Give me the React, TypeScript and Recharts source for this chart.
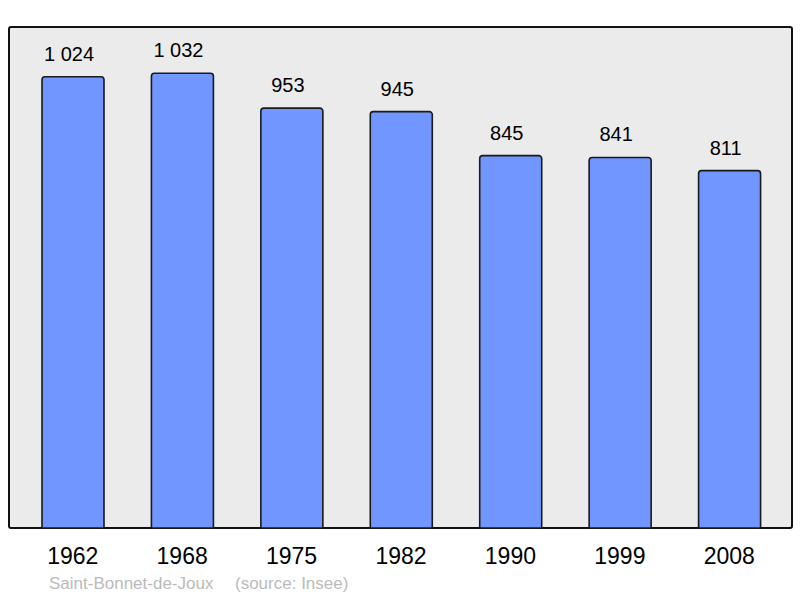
import React from "react";
import { BarChart, Bar, XAxis, YAxis, LabelList } from "recharts";

const years = ["1962", "1968", "1975", "1982", "1990", "1999", "2008"];
const population = [1024, 1032, 953, 945, 845, 841, 811];

const data = years.map((y, i) => ({ year: y, pop: population[i] }));

const fmt = (v: any) => {
  const n = Number(v);
  return n >= 1000 ? `${Math.floor(n / 1000)} ${String(n % 1000).padStart(3, "0")}` : String(n);
};

const FONT = "'Liberation Sans', Arial, sans-serif";

export default function App() {
  return (
    <div style={{ position: "fixed", left: 0, top: 0, width: 800, height: 598, background: "#fff", fontFamily: FONT }}>
      <div
        style={{
          position: "absolute",
          left: 8,
          top: 26,
          width: 781,
          height: 499,
          border: "2px solid #111",
          borderRadius: 3,
          background: "#ebebeb",
        }}
      />
      <div style={{ position: "absolute", left: 0, top: 0 }}>
        <BarChart
          width={800}
          height={598}
          data={data}
          margin={{ top: 27, right: 16, left: 18, bottom: 30 }}
          barSize={62}
        >
          <XAxis
            dataKey="year"
            axisLine={false}
            tickLine={false}
            height={40}
            tickMargin={14}
            tick={{ fontSize: 23, fill: "#000", fontFamily: FONT }}
            interval={0}
          />
          <YAxis hide domain={[0, 1137]} />
          <Bar
            dataKey="pop"
            fill="#7196ff"
            stroke="#1a1a1a"
            strokeWidth={1.6}
            radius={[3, 3, 0, 0]}
            isAnimationActive={false}
          >
            <LabelList
              dataKey="pop"
              position="top"
              offset={16}
              dx={-4}
              formatter={fmt}
              style={{ fontSize: 20, fill: "#000", fontFamily: FONT }}
            />
          </Bar>
        </BarChart>
      </div>
      <div
        style={{
          position: "absolute",
          left: 49,
          top: 574,
          fontSize: 17,
          color: "#bbbbbb",
          whiteSpace: "pre",
          fontFamily: FONT,
        }}
      >
        <span>Saint-Bonnet-de-Joux</span>
        <span style={{ position: "absolute", left: 186 }}>(source: Insee)</span>
      </div>
    </div>
  );
}
